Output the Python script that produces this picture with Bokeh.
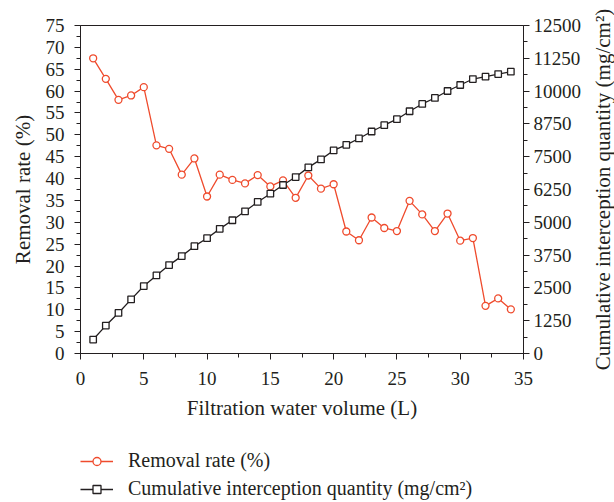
from bokeh.plotting import figure
from bokeh.layouts import column, row
from bokeh.models import Range1d, LinearAxis, Legend, LegendItem, FixedTicker, Title
from bokeh.embed import file_html
from bokeh.resources import INLINE

# ---- data ----
volume = list(range(1, 35))
removal = [67.5, 62.8, 58.0, 59.0, 60.9, 47.6, 46.8, 40.9, 44.6, 35.9,
           40.9, 39.7, 38.9, 40.8, 38.2, 39.6, 35.6, 40.7, 37.7, 38.7,
           27.9, 25.9, 31.1, 28.7, 28.0, 34.9, 31.8, 28.0, 32.0, 25.8,
           26.4, 10.9, 12.6, 10.1]
cumulative = [532, 1064, 1546, 2064, 2571, 2976, 3369, 3711, 4091, 4395,
              4750, 5079, 5420, 5775, 6091, 6421, 6725, 7093, 7397, 7739,
              7952, 8195, 8461, 8700, 8929, 9233, 9510, 9738, 10004, 10232,
              10460, 10551, 10650, 10741]

x_ticks = [0, 5, 10, 15, 20, 25, 30, 35]
x_minor = [2.5, 7.5, 12.5, 17.5, 22.5, 27.5, 32.5]
left_ticks = [0, 5, 10, 15, 20, 25, 30, 35, 40, 45, 50, 55, 60, 65, 70, 75]
left_minor = [2.5, 7.5, 12.5, 17.5, 22.5, 27.5, 32.5, 37.5, 42.5, 47.5, 52.5, 57.5, 62.5, 67.5, 72.5]
right_ticks = [0, 1250, 2500, 3750, 5000, 6250, 7500, 8750, 10000, 11250, 12500]
right_minor = [625, 1875, 3125, 4375, 5625, 6875, 8125, 9375, 10625, 11875]

label_x = "Filtration water volume (L)"
label_removal = "Removal rate (%)"
label_cum = "Cumulative interception quantity (mg/cm²)"

FONT = "Liberation Serif"
TXT = "#231f20"
RED = "#ef4b2d"
BLK = "#231f20"

W_MAIN = 588
W_SIDE = 614 - W_MAIN

p = figure(width=W_MAIN, height=450, x_range=Range1d(0, 35), y_range=Range1d(0, 75),
           output_backend="svg", toolbar_location=None,
           min_border_left=80, min_border_right=W_MAIN - 523, min_border_top=25,
           min_border_bottom=97)
p.extra_y_ranges = {"cum": Range1d(0, 12500)}

p.xgrid.visible = False
p.ygrid.visible = False
p.outline_line_color = BLK
p.outline_line_width = 1
p.background_fill_color = "white"
p.border_fill_color = "white"

right_axis = LinearAxis(y_range_name="cum")
p.add_layout(right_axis, "right")

p.xaxis.ticker = FixedTicker(ticks=x_ticks, minor_ticks=x_minor)
p.yaxis[0].ticker = FixedTicker(ticks=left_ticks, minor_ticks=left_minor)
right_axis.ticker = FixedTicker(ticks=right_ticks, minor_ticks=right_minor)

p.xaxis.axis_label = label_x
p.yaxis[0].axis_label = label_removal

for ax in [p.xaxis[0], p.yaxis[0], right_axis]:
    ax.axis_line_color = BLK
    ax.major_tick_line_color = BLK
    ax.minor_tick_line_color = BLK
    ax.major_tick_out = 6
    ax.major_tick_in = 0
    ax.minor_tick_out = 4
    ax.minor_tick_in = 0
    ax.major_label_text_font = FONT
    ax.major_label_text_font_size = "19px"
    ax.major_label_text_color = TXT
    ax.axis_label_text_font = FONT
    ax.axis_label_text_font_size = "21px"
    ax.axis_label_text_font_style = "normal"
    ax.axis_label_text_color = TXT

p.xaxis.major_label_standoff = 12
p.xaxis.axis_label_standoff = 8
p.yaxis[0].major_label_standoff = 10
p.yaxis[0].axis_label_standoff = 8
right_axis.major_label_standoff = 4

p.line(volume, removal, line_color=RED, line_width=1.3)
p.scatter(volume, removal, marker="circle", size=7, line_color=RED,
          fill_color="white", line_width=1.3)
p.line(volume, cumulative, line_color=BLK, line_width=1.3, y_range_name="cum")
p.scatter(volume, cumulative, marker="square", size=6.5, line_color=BLK,
          fill_color="white", line_width=1.3, y_range_name="cum")

# ---- legend panel below the chart (sample renderers kept outside its view) ----
p2 = figure(width=W_MAIN, height=52, output_backend="svg", toolbar_location=None,
            x_axis_type=None, y_axis_type=None, min_border=0,
            x_range=Range1d(100, 101), y_range=Range1d(100, 101))
p2.xgrid.visible = False
p2.ygrid.visible = False
p2.outline_line_color = None
p2.background_fill_color = "white"
p2.border_fill_color = "white"
g1 = p2.line(volume, removal, line_color=RED, line_width=1.3)
g2 = p2.scatter(volume, removal, marker="circle", size=7, line_color=RED,
                fill_color="white", line_width=1.3)
g3 = p2.line(volume, cumulative, line_color=BLK, line_width=1.3)
g4 = p2.scatter(volume, cumulative, marker="square", size=6.5, line_color=BLK,
                fill_color="white", line_width=1.3)

legend = Legend(items=[
    LegendItem(label=label_removal, renderers=[g1, g2]),
    LegendItem(label=label_cum, renderers=[g3, g4]),
], location=(0, 2))
legend.border_line_color = None
legend.background_fill_alpha = 0
legend.glyph_width = 33
legend.glyph_height = 20
legend.label_height = 20
legend.label_standoff = 15
legend.spacing = 5
legend.padding = 0
legend.margin = 0
legend.label_text_font = FONT
legend.label_text_font_size = "20px"
legend.label_text_color = TXT
p2.add_layout(legend, "center")

# ---- right-hand title, reading bottom to top ----
p3 = figure(width=W_SIDE, height=450, output_backend="svg", toolbar_location=None,
            x_axis_type=None, y_axis_type=None,
            min_border_left=0, min_border_right=0, min_border_top=25, min_border_bottom=97,
            x_range=Range1d(0, 1), y_range=Range1d(0, 1))
p3.xgrid.visible = False
p3.ygrid.visible = False
p3.outline_line_color = None
p3.background_fill_color = "white"
p3.border_fill_color = "white"
p3.add_layout(Title(text=label_cum, align="center", text_font=FONT,
                    text_font_size="21px", text_font_style="normal",
                    text_color=TXT, standoff=0, offset=0), "left")

layout = row(column(p, p2, spacing=0), p3, spacing=0)
open("out.html", "w").write(file_html(layout, INLINE))
